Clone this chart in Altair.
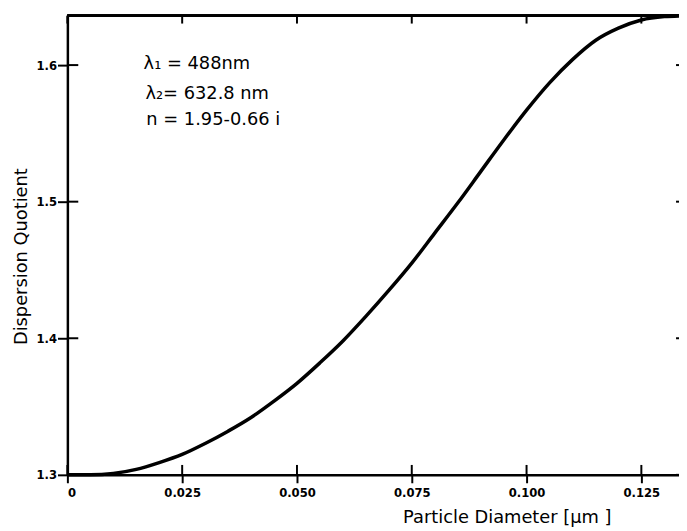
import altair as alt
import pandas as pd

# ---- data ----
diameter = [0.000, 0.005, 0.010, 0.015, 0.020, 0.025, 0.030, 0.035, 0.040, 0.045,
            0.050, 0.055, 0.060, 0.065, 0.070, 0.075, 0.080, 0.085, 0.090, 0.095,
            0.100, 0.105, 0.110, 0.115, 0.120, 0.125, 0.130, 0.1332]
quotient = [1.300, 1.300, 1.301, 1.304, 1.309, 1.315, 1.323, 1.332, 1.342, 1.354,
            1.367, 1.382, 1.398, 1.416, 1.435, 1.455, 1.477, 1.499, 1.522, 1.545,
            1.567, 1.587, 1.604, 1.618, 1.627, 1.633, 1.6355, 1.636]

x_ticks = [0.0, 0.025, 0.050, 0.075, 0.100, 0.125]
y_ticks = [1.3, 1.4, 1.5, 1.6]

note_lines = ["λ₁ = 488nm", "λ₂= 632.8 nm", "n = 1.95-0.66 i"]
note_x = [0.0166, 0.0170, 0.0172]
note_y = [1.601, 1.579, 1.560]

x_title = "Particle Diameter [µm ]"
y_title = "Dispersion Quotient"

# ---- tables ----
curve_df = pd.DataFrame({"d": diameter, "q": quotient})
xt_df = pd.DataFrame({"t": x_ticks})
yt_df = pd.DataFrame({"t": y_ticks})
note_df = pd.DataFrame({"x": note_x, "y": note_y, "txt": note_lines})

W, H = 618, 464
FONT = "DejaVu Sans"
COND = "DejaVu Sans Condensed, DejaVu Sans"

xs = alt.Scale(domain=[0, 0.1332], nice=False, zero=False)
ys = alt.Scale(domain=[1.3, 1.6362], nice=False, zero=False)

x_axis = alt.Axis(
    values=x_ticks,
    labelExpr="datum.value == 0 ? '0' : format(datum.value, '.3f')",
    title=x_title,
    titleX=444, titleY=43, titleBaseline="middle", titleAlign="center",
    tickSize=8, labelPadding=4,
)
y_axis = alt.Axis(
    values=y_ticks,
    format=".1f",
    title=y_title,
    titleX=-46, titleY=243, titleAngle=270, titleBaseline="middle", titleAlign="center",
    tickSize=10, labelPadding=1,
)

line = alt.Chart(curve_df).mark_line(
    color="black", strokeWidth=3.5, interpolate="monotone"
).encode(
    x=alt.X("d:Q", scale=xs, axis=x_axis),
    y=alt.Y("q:Q", scale=ys, axis=y_axis),
)

# inward halves of the bottom-axis ticks
x_in = alt.Chart(xt_df).mark_rule(color="black", strokeWidth=2).encode(
    x=alt.X("t:Q", scale=xs, axis=x_axis),
    y=alt.value(H),
    y2=alt.value(H - 10),
)
# inward ticks at the top frame
x_top = alt.Chart(xt_df).mark_rule(color="black", strokeWidth=2).encode(
    x=alt.X("t:Q", scale=xs, axis=x_axis),
    y=alt.value(0),
    y2=alt.value(8),
)
# inward halves of the left-axis ticks
y_in = alt.Chart(yt_df).mark_rule(color="black", strokeWidth=2).encode(
    y=alt.Y("t:Q", scale=ys, axis=y_axis),
    x=alt.value(0),
    x2=alt.value(11),
)
# inward ticks of the (cropped) right frame
y_right = alt.Chart(yt_df).mark_rule(color="black", strokeWidth=2).encode(
    y=alt.Y("t:Q", scale=ys, axis=y_axis),
    x=alt.value(W - 3),
    x2=alt.value(W),
)
# top frame line
top_frame = alt.Chart(xt_df).mark_rule(color="black", strokeWidth=2.5).encode(
    x=alt.value(0),
    x2=alt.value(W),
    y=alt.value(0),
)

notes = alt.Chart(note_df).mark_text(
    align="left", baseline="middle", font=FONT, fontSize=18, color="black"
).encode(
    x=alt.X("x:Q", scale=xs, axis=x_axis),
    y=alt.Y("y:Q", scale=ys, axis=y_axis),
    text="txt:N",
)

chart = alt.layer(top_frame, x_top, x_in, y_in, y_right, line, notes).properties(
    width=W,
    height=H,
    autosize=alt.AutoSizeParams(type="none"),
    padding={"left": 60, "top": 5, "right": 0, "bottom": 52},
    background="white",
).configure_view(
    stroke=None,
).configure_axis(
    grid=False,
    domainColor="black",
    domainWidth=2.5,
    tickColor="black",
    tickWidth=2,
    labelColor="black",
    labelFont=COND,
    labelFontSize=13,
    labelFontWeight="bold",
    titleColor="black",
    titleFont=FONT,
    titleFontSize=18,
    titleFontWeight="normal",
)

chart.save("out.html", embed_options={"renderer": "svg", "actions": False})
